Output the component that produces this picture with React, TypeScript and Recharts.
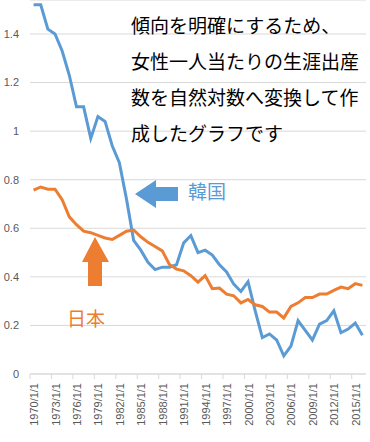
import { LineChart, Line, XAxis, YAxis, CartesianGrid } from 'recharts';

// 1970 .. 2016, natural log of total fertility rate
const years = [
  1970, 1971, 1972, 1973, 1974, 1975, 1976, 1977, 1978, 1979,
  1980, 1981, 1982, 1983, 1984, 1985, 1986, 1987, 1988, 1989,
  1990, 1991, 1992, 1993, 1994, 1995, 1996, 1997, 1998, 1999,
  2000, 2001, 2002, 2003, 2004, 2005, 2006, 2007, 2008, 2009,
  2010, 2011, 2012, 2013, 2014, 2015, 2016,
];

const korea = [
  1.52, 1.52, 1.42, 1.40, 1.33, 1.23, 1.10, 1.10, 0.97, 1.06,
  1.04, 0.94, 0.87, 0.72, 0.55, 0.51, 0.46, 0.43, 0.44, 0.44,
  0.45, 0.54, 0.57, 0.50, 0.51, 0.49, 0.45, 0.42, 0.37, 0.34,
  0.38, 0.26, 0.15, 0.165, 0.14, 0.075, 0.115, 0.22, 0.18, 0.14,
  0.205, 0.22, 0.26, 0.17, 0.185, 0.21, 0.16,
];

const japan = [
  0.757, 0.77, 0.761, 0.761, 0.718, 0.647, 0.615, 0.588, 0.582, 0.571,
  0.56, 0.554, 0.571, 0.588, 0.593, 0.565, 0.542, 0.525, 0.507, 0.451,
  0.432, 0.425, 0.405, 0.378, 0.405, 0.351, 0.354, 0.329, 0.322, 0.293,
  0.307, 0.285, 0.278, 0.255, 0.255, 0.231, 0.278, 0.293, 0.315, 0.315,
  0.329, 0.329, 0.344, 0.358, 0.351, 0.372, 0.365,
];

const yTicks = [0, 0.2, 0.4, 0.6, 0.8, 1, 1.2, 1.4];

const noteLines = [
  '傾向を明確にするため、',
  '女性一人当たりの生涯出産',
  '数を自然対数へ変換して作',
  '成したグラフです',
];

const data = years.map((y, i) => ({
  label: `${y}/1/1`,
  korea: korea[i],
  japan: japan[i],
}));

const BLUE = '#5B9BD5';
const ORANGE = '#ED7D31';
const AXIS_FONT = '"Liberation Sans", Arial, sans-serif';
const JP_FONT = '"Noto Sans CJK JP", "Noto Sans", sans-serif';

const XTick = (props: any) => {
  const { x, y, payload } = props;
  const half = 3.58;
  return (
    <g>
      <line x1={x - half} x2={x - half} y1={y} y2={y + 5} stroke="#d9d9d9" />
      <text
        x={0}
        y={0}
        transform={`translate(${x + 0.5},${y + 9}) rotate(-90)`}
        textAnchor="end"
        dominantBaseline="central"
        fontSize={11}
        fontFamily={AXIS_FONT}
        fill="#595959"
      >
        {payload.value}
      </text>
    </g>
  );
};

export default function App() {
  return (
    <div style={{ position: 'absolute', left: 0, top: 0, width: 370, height: 442, background: '#fff', overflow: 'hidden' }}>
      <LineChart width={370} height={442} data={data} margin={{ top: 0, right: 4, left: 0, bottom: 0 }}>
        <CartesianGrid vertical={false} stroke="#d9d9d9" />
        <XAxis
          dataKey="label"
          scale="band"
          interval={2}
          height={68}
          tickSize={0}
          tickMargin={0}
          tickLine={false}
          axisLine={{ stroke: '#d9d9d9' }}
          tick={<XTick />}
        />
        <YAxis
          width={30}
          domain={[0, 1.54]}
          ticks={yTicks}
          axisLine={false}
          tickLine={false}
          tickMargin={5}
          tick={{ fontSize: 11, fontFamily: AXIS_FONT, fill: '#595959' }}
        />
        <Line dataKey="korea" type="linear" stroke={BLUE} strokeWidth={3} dot={false} isAnimationActive={false} />
        <Line dataKey="japan" type="linear" stroke={ORANGE} strokeWidth={3} dot={false} isAnimationActive={false} />
      </LineChart>

      <svg width={370} height={442} style={{ position: 'absolute', left: 0, top: 0, pointerEvents: 'none' }}>
        {/* blue arrow pointing left */}
        <polygon points="135,194 156,180 156,187 178,187 178,201 156,201 156,208" fill={BLUE} />
        {/* orange arrow pointing up */}
        <polygon points="95,237 109,262 102,262 102,286 88,286 88,262 82,262" fill={ORANGE} />
      </svg>

      <div style={{ position: 'absolute', left: 131, top: 7, fontFamily: JP_FONT, fontSize: 19, lineHeight: '36px', color: '#000', whiteSpace: 'nowrap' }}>
        {noteLines.map((t) => (
          <div key={t}>{t}</div>
        ))}
      </div>
      <div style={{ position: 'absolute', left: 188, top: 178, fontFamily: JP_FONT, fontSize: 19, lineHeight: '26px', color: BLUE }}>
        韓国
      </div>
      <div style={{ position: 'absolute', left: 67, top: 305, fontFamily: JP_FONT, fontSize: 19, lineHeight: '26px', color: ORANGE }}>
        日本
      </div>
    </div>
  );
}
